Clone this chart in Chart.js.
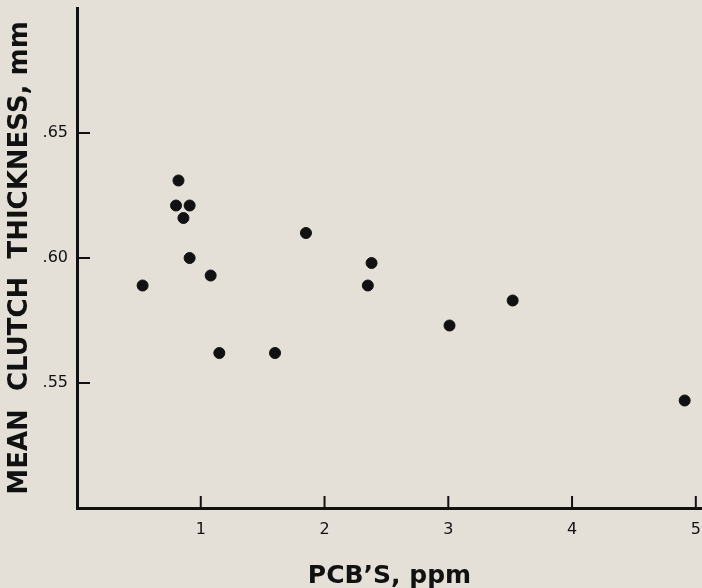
<!DOCTYPE html>
<html>
<head>
<meta charset="utf-8">
<script src="https://cdn.jsdelivr.net/npm/chart.js@4/dist/chart.umd.min.js"></script>
<style>
  html, body { margin: 0; padding: 0; background: #e4e0d8; }
  #wrap { width: 702px; height: 588px; }
</style>
</head>
<body>
<div id="wrap"><canvas id="scatter"></canvas></div>
<script>
// PCB's (ppm) vs mean clutch thickness (mm)
const pcbPpm = [0.53, 0.82, 0.80, 0.91, 0.86, 0.91, 1.08, 1.15, 1.60, 1.85, 2.35, 2.38, 3.01, 3.52, 4.91]
const thicknessMm = [0.589, 0.631, 0.621, 0.621, 0.616, 0.600, 0.593, 0.562, 0.562, 0.610, 0.589, 0.598, 0.573, 0.583, 0.543]

const xTickValues = [1, 2, 3, 4, 5]
const xTickLabels = ['1', '2', '3', '4', '5']
const yTickValues = [0.55, 0.60, 0.65]
const yTickLabels = ['.55', '.60', '.65']

const xMin = 0, xMax = 5.05
const yMin = 0.50, yMax = 0.70

const ink = '#111111'
const paper = '#e4e0d8'

let points = []
for (let i = 0; i < pcbPpm.length; i++){
    points.push({x: pcbPpm[i], y: thicknessMm[i]})
}

// label lookup, blank for the unlabelled ends of the axes
function tickLabel(values, labels, value){
    let i = values.findIndex(v => Math.abs(v - value) < 1e-6)
    return i >= 0 ? labels[i] : ''
}

// paint the paper colour behind everything
const paperPlugin = {
    id: 'paper',
    beforeDraw(chart){
        let ctx = chart.ctx
        ctx.save()
        ctx.fillStyle = paper
        ctx.fillRect(0, 0, chart.width, chart.height)
        ctx.restore()
    }
}

// tick marks point into the plot, not out of it
const inwardTicks = {
    id: 'inwardTicks',
    afterDraw(chart){
        let ctx = chart.ctx
        let xs = chart.scales.x
        let ys = chart.scales.y
        let area = chart.chartArea
        ctx.save()
        ctx.strokeStyle = ink
        ctx.lineWidth = 2
        ctx.beginPath()
        for (let i = 0; i < xTickValues.length; i++){
            let px = xs.getPixelForValue(xTickValues[i])
            ctx.moveTo(px, area.bottom)
            ctx.lineTo(px, area.bottom - 12)
        }
        for (let i = 0; i < yTickValues.length; i++){
            let py = ys.getPixelForValue(yTickValues[i])
            ctx.moveTo(area.left, py)
            ctx.lineTo(area.left + 13, py)
        }
        ctx.stroke()
        ctx.restore()
    }
}

let ctx = document.getElementById('scatter').getContext('2d')
let chart = new Chart(ctx, {
    type: 'scatter',
    data: {
        datasets: [{
            label: 'clutches',
            data: points,
            backgroundColor: ink,
            borderColor: ink,
            pointRadius: 5.5,
            pointHoverRadius: 5.5
        }]
    },
    options: {
        responsive: true,
        maintainAspectRatio: false,
        animation: false,
        layout: { autoPadding: false, padding: { top: 8, right: 0, left: 0, bottom: 0 } },
        plugins: {
            legend: { display: false },
            tooltip: { enabled: false }
        },
        scales: {
            x: {
                type: 'linear',
                min: xMin,
                max: xMax,
                afterFit(scale){
                    scale.height = 80
                    scale.paddingLeft = 0
                    scale.paddingRight = 0
                },
                // blank ticks at both ends so no room is reserved for end labels
                afterBuildTicks(scale){
                    scale.ticks = [xMin].concat(xTickValues, [xMax]).map(v => ({value: v}))
                },
                grid: { display: false, drawTicks: false },
                border: { display: true, color: ink, width: 3 },
                ticks: {
                    color: ink,
                    padding: 12,
                    maxRotation: 0,
                    autoSkip: false,
                    font: { family: 'DejaVu Sans', size: 16 },
                    callback: function(value){
                        return tickLabel(xTickValues, xTickLabels, value)
                    }
                },
                title: {
                    display: true,
                    text: 'PCB\u2019S, ppm',
                    color: ink,
                    font: { family: 'DejaVu Sans', size: 25, weight: 'bold', lineHeight: 0.9 },
                    padding: { top: 0, bottom: 0 }
                }
            },
            y: {
                type: 'linear',
                min: yMin,
                max: yMax,
                afterFit(scale){
                    scale.width = 77
                    scale.paddingTop = 0
                    scale.paddingBottom = 0
                },
                afterBuildTicks(scale){
                    scale.ticks = [yMin].concat(yTickValues, [yMax]).map(v => ({value: v}))
                },
                grid: { display: false, drawTicks: false },
                border: { display: true, color: ink, width: 3 },
                ticks: {
                    color: ink,
                    padding: 9,
                    autoSkip: false,
                    font: { family: 'DejaVu Sans', size: 16 },
                    callback: function(value){
                        return tickLabel(yTickValues, yTickLabels, value)
                    }
                },
                title: {
                    display: true,
                    text: 'MEAN  CLUTCH  THICKNESS, mm',
                    color: ink,
                    font: { family: 'DejaVu Sans', size: 26, weight: 'bold', lineHeight: 1.2 },
                    padding: { top: 5, bottom: 0 }
                }
            }
        }
    },
    plugins: [paperPlugin, inwardTicks]
})
</script>
</body>
</html>
